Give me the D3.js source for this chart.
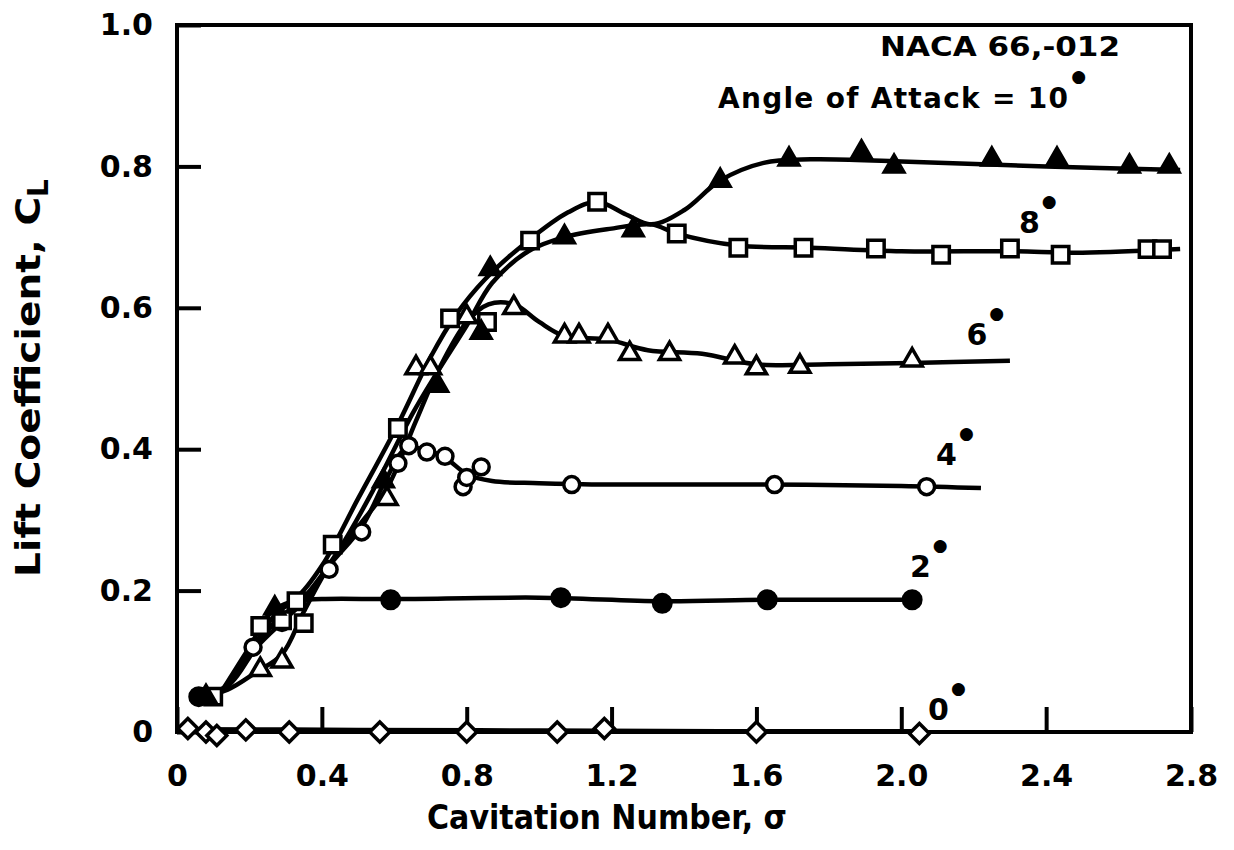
<!DOCTYPE html>
<html><head><meta charset="utf-8">
<script src="https://cdn.jsdelivr.net/npm/d3@7/dist/d3.min.js"></script>
<style>body{margin:0;background:#fff}</style>
</head><body><svg id="c" width="1234" height="850"></svg>
<script>
// ---- axis ticks ----
const xTicks = [0, 0.4, 0.8, 1.2, 1.6, 2.0, 2.4, 2.8];
const xTickLabels = ["0", "0.4", "0.8", "1.2", "1.6", "2.0", "2.4", "2.8"];
const yTicks = [0, 0.2, 0.4, 0.6, 0.8, 1.0];
const yTickLabels = ["0", "0.2", "0.4", "0.6", "0.8", "1.0"];

// ---- faired curves as drawn (sigma, CL) ----
const curveTop = [[0.12,0.055],[0.20,0.12],[0.26,0.17],[0.33,0.19],[0.40,0.235],[0.50,0.33],[0.61,0.435],[0.70,0.53],[0.77,0.59],[0.85,0.64],[0.97,0.695],[1.08,0.735],[1.16,0.75],[1.24,0.732],[1.31,0.718],[1.40,0.738],[1.50,0.78],[1.62,0.805],[1.75,0.81],[2.0,0.807],[2.4,0.80],[2.77,0.795]];
const curveMid = [[0.12,0.055],[0.20,0.11],[0.27,0.155],[0.35,0.19],[0.45,0.26],[0.55,0.35],[0.65,0.45],[0.72,0.51],[0.80,0.575],[0.87,0.635],[0.97,0.68],[1.07,0.70],[1.20,0.712],[1.31,0.718],[1.38,0.705],[1.55,0.688],[1.75,0.685],[2.0,0.68],[2.3,0.68],[2.5,0.678],[2.77,0.683]];
const curve6 = [[0.06,0.05],[0.14,0.06],[0.22,0.085],[0.29,0.11],[0.35,0.17],[0.42,0.235],[0.50,0.29],[0.58,0.345],[0.66,0.44],[0.72,0.51],[0.80,0.58],[0.86,0.605],[0.93,0.605],[1.00,0.58],[1.07,0.56],[1.19,0.555],[1.30,0.54],[1.45,0.535],[1.60,0.52],[1.80,0.52],[2.03,0.522],[2.30,0.525]];
const curve4 = [[0.08,0.05],[0.15,0.07],[0.22,0.12],[0.30,0.16],[0.36,0.19],[0.42,0.235],[0.51,0.29],[0.58,0.36],[0.63,0.40],[0.68,0.40],[0.74,0.388],[0.80,0.365],[0.87,0.355],[1.0,0.352],[1.2,0.35],[1.6,0.35],[2.0,0.348],[2.22,0.345]];
const curve2 = [[0.06,0.05],[0.13,0.06],[0.20,0.11],[0.27,0.165],[0.33,0.185],[0.40,0.188],[0.6,0.188],[1.0,0.19],[1.34,0.185],[1.63,0.187],[2.03,0.187]];
const curve0 = [[0.03,0.004],[0.5,0.003],[1.0,0.002],[1.5,0.001],[2.05,0.001]];

// ---- measured points (sigma, CL) ----
const pts10 = [[0.08,0.05],[0.27,0.175],[0.57,0.355],[0.72,0.49],[0.84,0.565],[0.865,0.655],[1.07,0.70],[1.26,0.71],[1.50,0.78],[1.69,0.81],[1.89,0.82],[1.98,0.80],[2.25,0.81],[2.43,0.81],[2.63,0.80],[2.74,0.80]];
const pts8 = [[0.10,0.05],[0.23,0.15],[0.29,0.158],[0.35,0.154],[0.33,0.185],[0.43,0.265],[0.61,0.43],[0.754,0.585],[0.856,0.58],[0.975,0.695],[1.16,0.75],[1.38,0.705],[1.55,0.685],[1.73,0.685],[1.93,0.684],[2.11,0.675],[2.30,0.684],[2.44,0.675],[2.68,0.683],[2.72,0.683]];
const pts6 = [[0.23,0.088],[0.29,0.10],[0.58,0.33],[0.66,0.515],[0.70,0.515],[0.80,0.587],[0.93,0.60],[1.07,0.56],[1.11,0.56],[1.19,0.56],[1.25,0.535],[1.36,0.535],[1.54,0.53],[1.60,0.515],[1.72,0.517],[2.03,0.526]];
const pts4 = [[0.21,0.12],[0.29,0.155],[0.42,0.23],[0.51,0.283],[0.61,0.38],[0.64,0.405],[0.69,0.396],[0.74,0.39],[0.79,0.347],[0.80,0.36],[0.84,0.375],[1.09,0.35],[1.65,0.35],[2.07,0.347]];
const pts2 = [[0.06,0.05],[0.59,0.187],[1.06,0.19],[1.34,0.182],[1.63,0.187],[2.03,0.187]];
const pts0 = [[0.03,0.005],[0.08,0.0],[0.11,-0.005],[0.19,0.003],[0.31,0.0],[0.56,0.0],[0.80,0.0],[1.05,0.0],[1.18,0.005],[1.60,0.0],[2.05,-0.002]];

// ---- curve labels (sigma of left edge, CL of baseline) ----
const angleLabels = [
  {t:"8", s:2.325, c:0.706},
  {t:"6", s:2.18, c:0.547},
  {t:"4", s:2.096, c:0.378},
  {t:"2", s:2.024, c:0.219},
  {t:"0", s:2.074, c:0.017}
];

const FONT = "DejaVu Sans, sans-serif";
const svg = d3.select("#c");
const x = d3.scaleLinear().domain([0, 2.8]).range([177, 1191]);
const y = d3.scaleLinear().domain([0, 1]).range([732, 25]);

// frame
svg.append("rect")
  .attr("x", x(0)).attr("y", y(1))
  .attr("width", x(2.8) - x(0)).attr("height", y(0) - y(1))
  .attr("fill", "none").attr("stroke", "#000").attr("stroke-width", 4);

// axes
const gx = svg.append("g").attr("transform", `translate(0,${y(0)})`)
  .call(d3.axisBottom(x).tickValues(xTicks).tickSize(-25).tickPadding(33)
    .tickFormat((d, i) => xTickLabels[i]));
const gy = svg.append("g").attr("transform", `translate(${x(0)},0)`)
  .call(d3.axisLeft(y).tickValues(yTicks).tickSize(-24).tickPadding(24)
    .tickFormat((d, i) => yTickLabels[i]));
[gx, gy].forEach(g => {
  g.select(".domain").remove();
  g.selectAll(".tick line").attr("stroke", "#000").attr("stroke-width", 4);
  g.selectAll(".tick text").attr("fill", "#000")
    .style("font-family", FONT).style("font-weight", "bold").style("font-size", "30px");
});

// curves
const line = d3.line().x(d => x(d[0])).y(d => y(d[1])).curve(d3.curveCatmullRom.alpha(0.5));
[curveTop, curveMid, curve6, curve4, curve2, curve0].forEach(c => {
  svg.append("path").attr("d", line(c)).attr("fill", "none")
    .attr("stroke", "#000").attr("stroke-width", 4.5).attr("stroke-linejoin", "round");
});

// markers
function drawPts(data, type, size, filled, rot) {
  const sym = d3.symbol().type(type).size(size);
  svg.append("g").selectAll("path").data(data).join("path")
    .attr("d", sym)
    .attr("transform", d => `translate(${x(d[0])},${y(d[1])}) rotate(${rot || 0})`)
    .attr("fill", filled ? "#000" : "#fff")
    .attr("stroke", "#000").attr("stroke-width", 3.5);
}
drawPts(pts0, d3.symbolSquare, 200, false, 45);
drawPts(pts2, d3.symbolCircle, 240, true);
drawPts(pts4, d3.symbolCircle, 200, false);
drawPts(pts6, d3.symbolTriangle, 175, false);
drawPts(pts8, d3.symbolSquare, 270, false);
drawPts(pts10, d3.symbolTriangle, 165, true);

// angle labels with degree dots
function degDot(t) {
  t.append("tspan").attr("dy", "-26px").attr("dx", "2px")
    .style("font-size", "17px").text("\u25CF");
}
angleLabels.forEach(l => {
  const t = svg.append("text").attr("x", x(l.s)).attr("y", y(l.c))
    .style("font-family", FONT).style("font-weight", "bold").style("font-size", "30px");
  t.append("tspan").text(l.t);
  degDot(t);
});

// top-right annotations
svg.append("text").attr("x", 880).attr("y", 56)
  .attr("textLength", 240).attr("lengthAdjust", "spacingAndGlyphs")
  .style("font-family", FONT).style("font-weight", "bold").style("font-size", "27px")
  .text("NACA 66,-012");
const aoa = svg.append("text").attr("x", 718).attr("y", 108)
  .style("font-family", FONT).style("font-weight", "bold").style("font-size", "28px");
aoa.append("tspan").attr("textLength", 350).attr("lengthAdjust", "spacing")
  .text("Angle of Attack = 10");
degDot(aoa);

// axis titles
svg.append("text").attr("x", 607).attr("y", 829).attr("text-anchor", "middle")
  .attr("textLength", 360).attr("lengthAdjust", "spacingAndGlyphs")
  .style("font-family", FONT).style("font-weight", "bold").style("font-size", "33px")
  .text("Cavitation Number, \u03c3");
const yt = svg.append("text").attr("transform", "translate(40,378) rotate(-90)")
  .attr("text-anchor", "middle")
  .style("font-family", FONT).style("font-weight", "bold").style("font-size", "34px");
yt.append("tspan").attr("textLength", 380).attr("lengthAdjust", "spacingAndGlyphs")
  .text("Lift Coefficient, C");
yt.append("tspan").attr("dy", "0.3em").style("font-size", "28px").text("L");
</script></body></html>
